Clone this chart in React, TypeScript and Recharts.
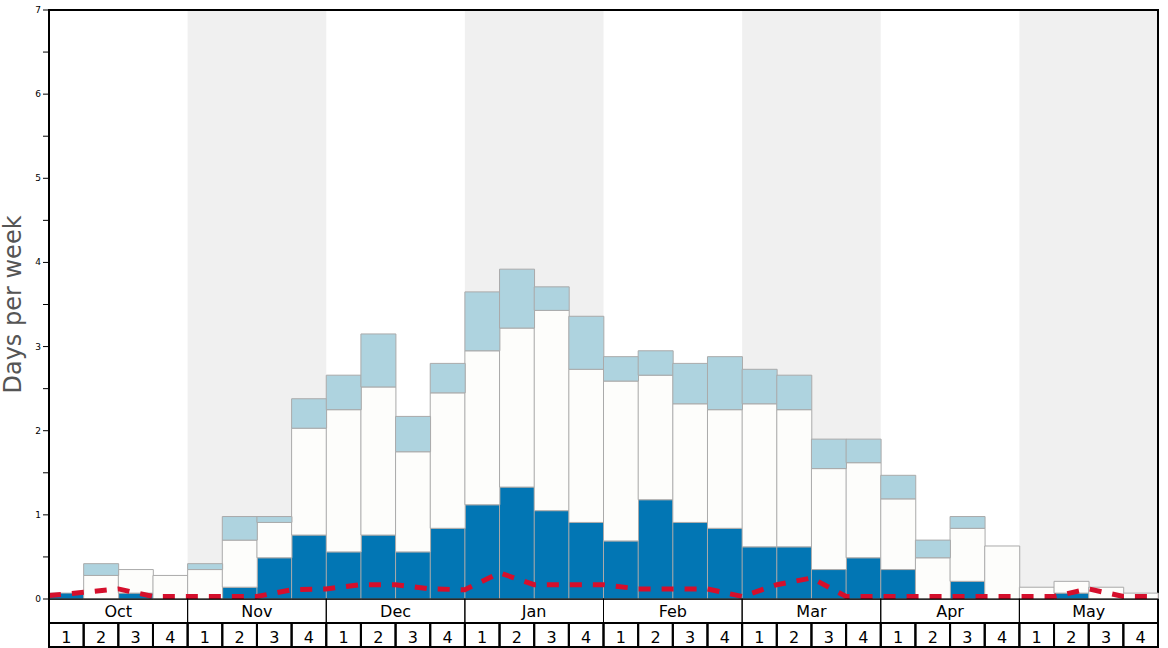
import { ComposedChart, Bar, Line, XAxis, YAxis, ReferenceArea } from 'recharts';

// weekly climatology, Oct..May, 4 weeks per month
const MONTHS = ['Oct', 'Nov', 'Dec', 'Jan', 'Feb', 'Mar', 'Apr', 'May'];
const WEEKS = [1, 2, 3, 4];
const SHADED = ['Nov', 'Jan', 'Mar', 'May'];

// stacked segments (days per week)
const DARK = [
  0.07, 0, 0.07, 0,
  0, 0.14, 0.49, 0.76,
  0.56, 0.76, 0.56, 0.84,
  1.12, 1.33, 1.05, 0.91,
  0.69, 1.18, 0.91, 0.84,
  0.62, 0.62, 0.35, 0.49,
  0.35, 0, 0.21, 0,
  0, 0.07, 0, 0,
];
const WHITE = [
  0, 0.28, 0.28, 0.28,
  0.35, 0.56, 0.42, 1.27,
  1.69, 1.76, 1.19, 1.61,
  1.83, 1.89, 2.38, 1.82,
  1.9, 1.48, 1.41, 1.41,
  1.7, 1.63, 1.2, 1.13,
  0.84, 0.49, 0.63, 0.63,
  0.14, 0.14, 0.14, 0.07,
];
const LIGHT = [
  0, 0.14, 0, 0,
  0.07, 0.28, 0.07, 0.35,
  0.41, 0.63, 0.42, 0.35,
  0.7, 0.7, 0.28, 0.63,
  0.29, 0.29, 0.48, 0.63,
  0.41, 0.41, 0.35, 0.28,
  0.28, 0.21, 0.14, 0,
  0, 0, 0, 0,
];
// red dashed line, one value per week boundary
const AVG = [
  0.04, 0.08, 0.12, 0.03,
  0.03, 0.03, 0.03, 0.11,
  0.12, 0.17, 0.17, 0.12,
  0.11, 0.31, 0.17, 0.17,
  0.17, 0.12, 0.12, 0.12,
  0.03, 0.17, 0.25, 0.03,
  0.03, 0.03, 0.03, 0.03,
  0.03, 0.03, 0.12, 0.03,
  0.03,
];
const Y_TICKS = [0, 0.5, 1, 1.5, 2, 2.5, 3, 3.5, 4, 4.5, 5, 5.5, 6, 6.5, 7];

const W = 1168;
const H = 648;
const MARGIN = { top: 10, right: 10, bottom: 0, left: 0 };
const Y_W = 49;
const X_H = 49;
const N = MONTHS.length * WEEKS.length;
const BAND = (W - MARGIN.left - MARGIN.right - Y_W) / N;
const FONT = 'DejaVu Sans, sans-serif';

const data = MONTHS.flatMap((m, mi) =>
  WEEKS.map((w, wi) => {
    const i = mi * 4 + wi;
    return { wk: `${m}-${w}`, dark: DARK[i], white: WHITE[i], light: LIGHT[i] };
  })
);
const lineData = AVG.map((v, i) => ({ x: i, v }));

const YTick = (props: any) => {
  const { x, y, payload } = props;
  if (!Number.isInteger(payload.value)) return null;
  return (
    <text x={x} y={y} dy={3} textAnchor="end" fontSize={9} fontFamily={FONT} fill="#000">
      {payload.value}
    </text>
  );
};

const WeekTick = (props: any) => {
  const { x, y, payload } = props;
  const i = payload.index;
  const left = x - BAND / 2;
  const row = 24;
  return (
    <g fontFamily={FONT} fontSize={16}>
      {i % 4 === 0 && (
        <g>
          <rect x={left} y={y} width={BAND * 4} height={row} fill="none" stroke="#000" strokeWidth={1} />
          <text x={left + BAND * 2} y={y + 18} textAnchor="middle" fill="#000">
            {MONTHS[i / 4]}
          </text>
        </g>
      )}
      <rect x={left} y={y + row} width={BAND} height={row} fill="none" stroke="#000" strokeWidth={2} />
      {i === 0 && <line x1={left} x2={left} y1={y} y2={y + row} stroke="#000" strokeWidth={2} />}
      {i === N - 1 && <line x1={left + BAND} x2={left + BAND} y1={y} y2={y + row} stroke="#000" strokeWidth={2} />}
      <text x={x} y={y + row + 20} textAnchor="middle" fill="#000">
        {WEEKS[i % 4]}
      </text>
    </g>
  );
};

const YLabel = (props: any) => {
  const { viewBox } = props;
  const cx = viewBox.x + 13;
  const cy = viewBox.y + viewBox.height / 2;
  return (
    <text
      x={cx}
      y={cy}
      transform={`rotate(-90, ${cx}, ${cy})`}
      textAnchor="middle"
      dominantBaseline="central"
      fontSize={24}
      fontFamily={FONT}
      fill="#555"
    >
      Days per week
    </text>
  );
};

export default function App() {
  return (
    <div style={{ position: 'absolute', left: 0, top: 0, width: W, height: H, background: '#fff' }}>
      <ComposedChart width={W} height={H} data={data} margin={MARGIN} barCategoryGap={0} barGap={0}>
        <XAxis
          dataKey="wk"
          height={X_H}
          interval={0}
          tickSize={0}
          tickMargin={0}
          tickLine={false}
          axisLine={false}
          tick={<WeekTick />}
        />
        <XAxis xAxisId="num" type="number" dataKey="x" domain={[0, N]} allowDataOverflow hide />
        <YAxis
          domain={[0, 7]}
          ticks={Y_TICKS}
          interval={0}
          width={Y_W}
          tickSize={6}
          tickMargin={2}
          tickLine={{ stroke: '#000' }}
          axisLine={{ stroke: '#000', strokeWidth: 2 }}
          tick={<YTick />}
          label={<YLabel />}
        />
        {SHADED.map((m) => {
          const s = MONTHS.indexOf(m) * 4;
          return (
            <ReferenceArea
              key={m}
              xAxisId="num"
              x1={s}
              x2={s + 4}
              y1={0}
              y2={7}
              fill="#f0f0f0"
              fillOpacity={1}
              stroke="none"
              ifOverflow="visible"
            />
          );
        })}
        {/* plot frame */}
        <ReferenceArea
          xAxisId="num"
          x1={0}
          x2={N}
          y1={0}
          y2={7}
          fill="none"
          stroke="#000"
          strokeWidth={2}
          ifOverflow="visible"
        />
        <Bar dataKey="dark" stackId="a" fill="#0276b4" stroke="#aaaaaa" strokeWidth={1} isAnimationActive={false} />
        <Bar dataKey="white" stackId="a" fill="#fdfdfb" stroke="#aaaaaa" strokeWidth={1} isAnimationActive={false} />
        <Bar dataKey="light" stackId="a" fill="#aed3df" stroke="#aaaaaa" strokeWidth={1} isAnimationActive={false} />
        <Line
          data={lineData}
          xAxisId="num"
          dataKey="v"
          type="linear"
          stroke="#d50f2c"
          strokeWidth={5}
          strokeDasharray="12 11"
          dot={false}
          activeDot={false}
          isAnimationActive={false}
        />
      </ComposedChart>
    </div>
  );
}
